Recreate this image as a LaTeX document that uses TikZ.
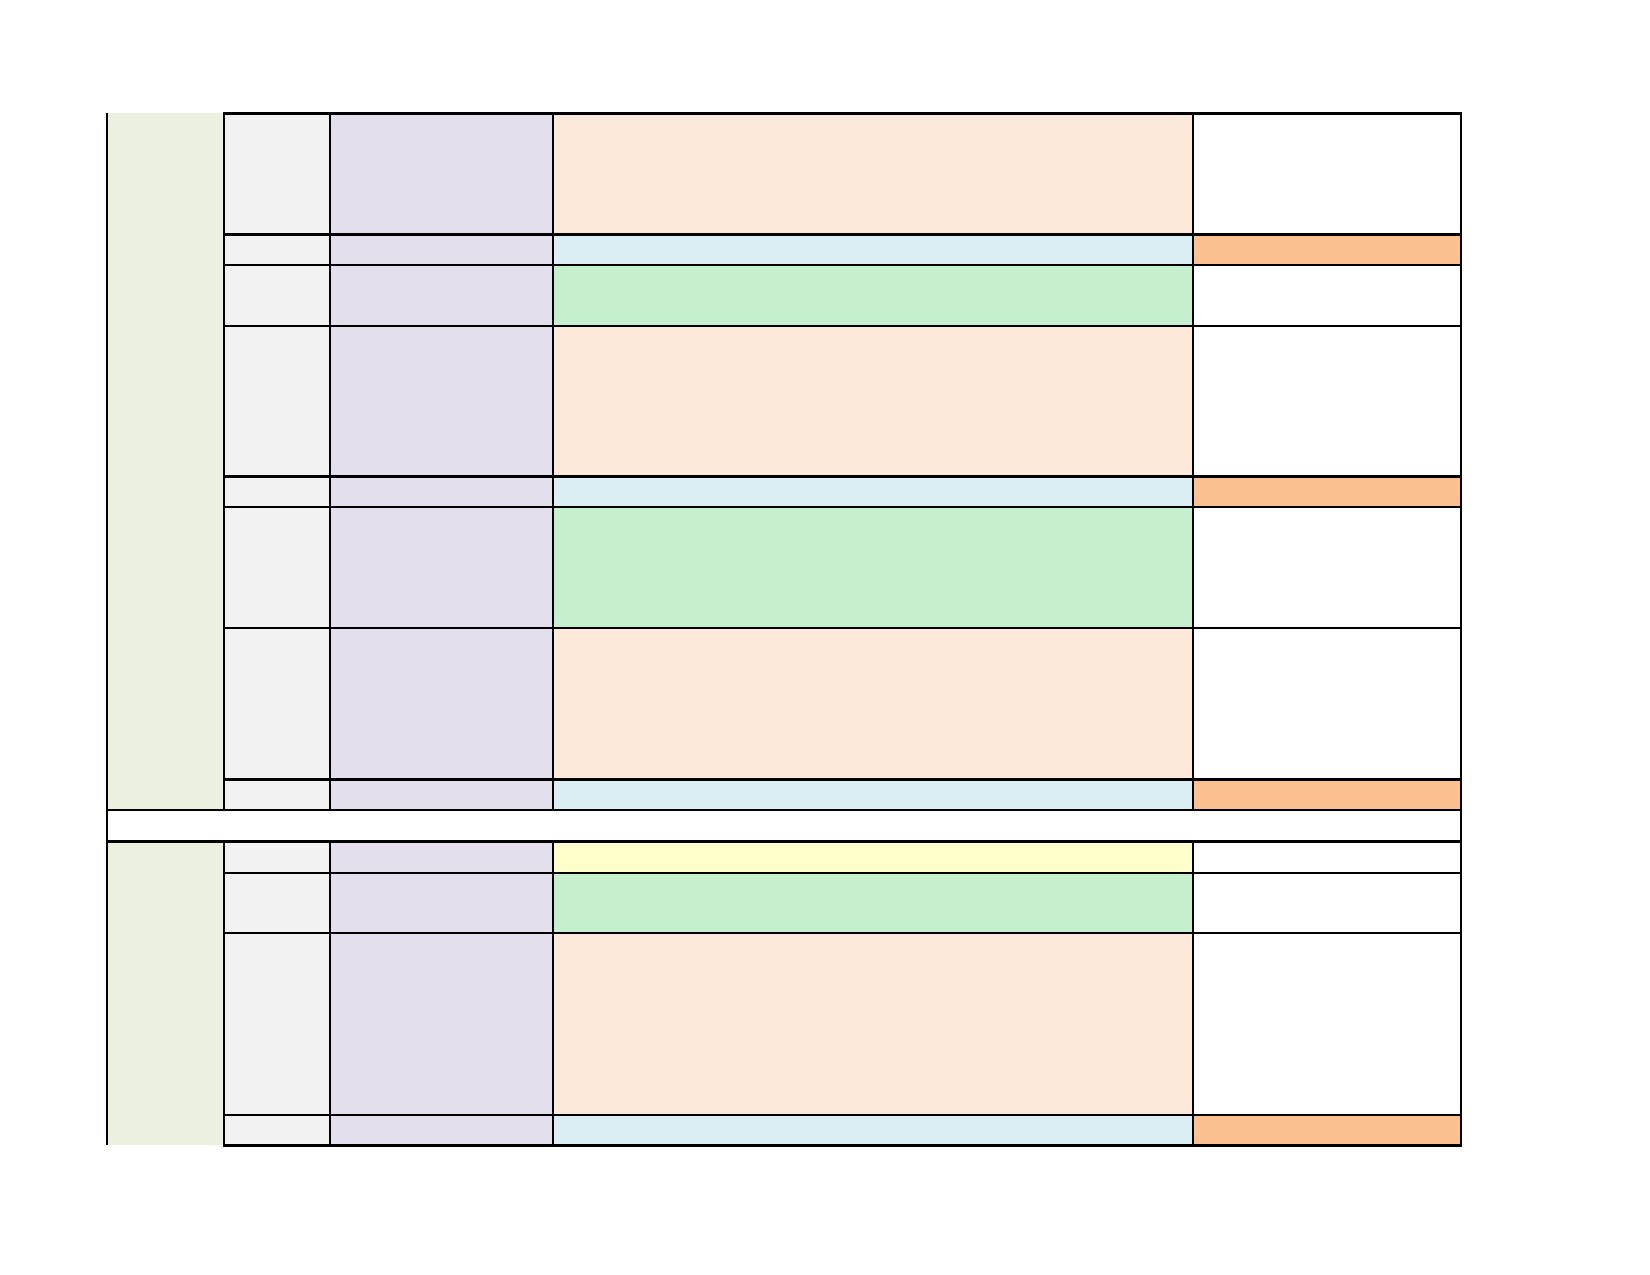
\documentclass[tikz,border=0pt]{standalone}
\usepackage{xcolor}
\usepackage{tikz}

\definecolor{sidegreen}{HTML}{EBF1DE}
\definecolor{keygray}{HTML}{F2F2F2}
\definecolor{lavender}{HTML}{E4DFEC}
\definecolor{peach}{HTML}{FDE9D9}
\definecolor{paleblue}{HTML}{DAEEF3}
\definecolor{palegreen}{HTML}{C6EFCE}
\definecolor{paleyellow}{HTML}{FFFFCC}
\definecolor{tanorange}{HTML}{FAC090}

\begin{document}
\begin{tikzpicture}[x=0.3pt, y=-0.3pt,
    cell/.style = {draw = black, line width = 0.7pt},
    rule/.style = {black, line width = 0.7pt}]
  \useasboundingbox (0,0) rectangle (1650,1275);

  % side bands
  \fill[sidegreen] (107,113.5) rectangle (224,810);
  \fill[sidegreen] (107,841.5) rectangle (224,1145.5);

  % rows: top/bottom/main cell/last cell
  \foreach \rtop/\rbot/\cmain/\clast in {
      113.5/234.5/peach/white,
      234.5/265/paleblue/tanorange,
      265/326/palegreen/white,
      326/476.5/peach/white,
      476.5/507/paleblue/tanorange,
      507/628/palegreen/white,
      628/779.5/peach/white,
      779.5/810/paleblue/tanorange,
      841.5/873/paleyellow/white,
      873/933/palegreen/white,
      933/1115/peach/white,
      1115/1145.5/paleblue/tanorange} {
    \filldraw[cell, fill = keygray]  (224,\rtop)  rectangle (330,\rbot);
    \filldraw[cell, fill = lavender] (330,\rtop)  rectangle (553,\rbot);
    \filldraw[cell, fill = \cmain]   (553,\rtop)  rectangle (1193,\rbot);
    \filldraw[cell, fill = \clast]   (1193,\rtop) rectangle (1461,\rbot);
  }

  % gap row
  \filldraw[cell, fill = white] (107,810) rectangle (1461,841.5);

  % left edge
  \coordinate (edgetop) at (107,113.5);
  \coordinate (edgebot) at (107,1145.5);
  \draw[rule] (edgetop) -- (edgebot);
\end{tikzpicture}
\end{document}
